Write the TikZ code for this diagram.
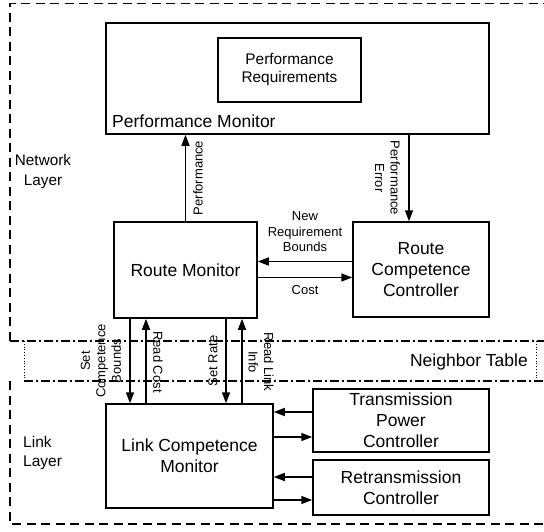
\documentclass[tikz,border=0pt]{standalone}
\usepackage{fontspec}
\setmainfont{Liberation Sans}
\usetikzlibrary{arrows.meta}

\begin{document}
\begin{tikzpicture}[x=1pt,y=-1pt,
   blk/.style={draw,line width=1.5pt,inner sep=0pt,align=center,font=\fontsize{17.5}{21}\selectfont},
   sml/.style={align=center,inner sep=0pt,font=\fontsize{13}{15.5}\selectfont},
   arr/.style={-{Triangle[length=11pt,width=8pt]},line width=1.5pt},
   lay/.style={line width=1.5pt,dash pattern=on 9pt off 5.5pt},
   dd/.style={line width=1.5pt,dash pattern=on 9pt off 3pt on 2pt off 3pt}]
   \useasboundingbox (0,0) rectangle (544,531);
   \clip (0,0) rectangle (544,531);

   % layers
   \draw[lay] (552,3.5) -- (10,3.5) -- (10,341);
   \draw[dd] (10,341) -- (552,341);
   \draw[dotted,line width=0.8pt] (24,341) -- (24,381) (536,341) -- (536,381);
   \draw[dd] (24,381) -- (552,381);
   \draw[lay] (10,381) -- (10,524) -- (552,524);

   \node[font=\fontsize{15.3}{20}\selectfont,align=center,inner sep=0pt] (netl) at (43,172) {Network\\Layer};
   \node[font=\fontsize{15.5}{19}\selectfont,align=left,inner sep=0pt,anchor=west] (linkl) at (23,452.5) {Link\\Layer};
   \node[font=\fontsize{17.5}{21}\selectfont,inner sep=0pt,anchor=east] (nbt) at (528,362) {Neighbor Table};

   % blocks
   \node[blk,minimum width=383pt,minimum height=111pt] (pm) at (297.5,78.5) {};
   \node[blk,font=\fontsize{15.4}{18}\selectfont,minimum width=143pt,minimum height=64pt] (pr) at (289.5,70) {Performance\\Requirements};
   \node[font=\fontsize{17.5}{21}\selectfont,inner sep=0pt,anchor=west] (pmlbl) at (112,121) {Performance Monitor};
   \node[blk,minimum width=143pt,minimum height=96pt] (rm) at (185.5,270) {Route Monitor};
   \node[blk,minimum width=136pt,minimum height=95pt] (rcc) at (421,269.5) {Route\\Competence\\Controller};
   \node[blk,minimum width=167pt,minimum height=104pt] (lcm) at (189.5,456) {Link Competence\\Monitor};
   \node[blk,minimum width=176pt,minimum height=63pt] (tpc) at (401,420.5) {Transmission\\Power\\Controller};
   \node[blk,minimum width=176pt,minimum height=55pt] (rtc) at (401,487.5) {Retransmission\\Controller};

   % connectors
   \draw[arr] (rm.north) -- (rm.north |- pm.south);
   \draw[arr] ([xshift=-12pt]rcc.north |- pm.south) -- ([xshift=-12pt]rcc.north);
   \draw[arr] ([yshift=8pt]rcc.west) -- ([yshift=8pt]rcc.west -| rm.east);
   \draw[arr] ([yshift=-8pt]rcc.west -| rm.east) -- ([yshift=-8pt]rcc.west);

   \draw[arr] ([xshift=-55.5pt]rm.south) -- ([xshift=-55.5pt]rm.south |- lcm.north);
   \draw[arr] ([xshift=-39.5pt]rm.south |- lcm.north) -- ([xshift=-39.5pt]rm.south);
   \draw[arr] ([xshift=40.5pt]rm.south) -- ([xshift=40.5pt]rm.south |- lcm.north);
   \draw[arr] ([xshift=56.5pt]rm.south |- lcm.north) -- ([xshift=56.5pt]rm.south);

   \draw[arr] ([yshift=8.5pt]tpc.west) -- ([yshift=8.5pt]tpc.west -| lcm.east);
   \draw[arr] ([yshift=-16.5pt]tpc.west -| lcm.east) -- ([yshift=-16.5pt]tpc.west);
   \draw[arr] ([yshift=10.5pt]rtc.west) -- ([yshift=10.5pt]rtc.west -| lcm.east);
   \draw[arr] ([yshift=-12.5pt]rtc.west -| lcm.east) -- ([yshift=-12.5pt]rtc.west);

   % labels
   \node[sml,rotate=90] (lperf) at (198,178) {Performance};
   \node[sml,rotate=-90] (lerr) at (387.5,178) {Performance\\Error};
   \node[sml] (lnrb) at (305,232) {New\\Requirement\\Bounds};
   \node[sml] (lcost) at (305,290) {Cost};
   \node[sml,rotate=90] (lscb) at (101,361) {Set\\Competence\\Bounds};
   \node[sml,rotate=-90] (lrc) at (158,362) {Read Cost};
   \node[sml,rotate=90] (lsr) at (213,361) {Set Rate};
   \node[sml,rotate=-90] (lrli) at (261,362) {Read Link\\Info};

\end{tikzpicture}
\end{document}
